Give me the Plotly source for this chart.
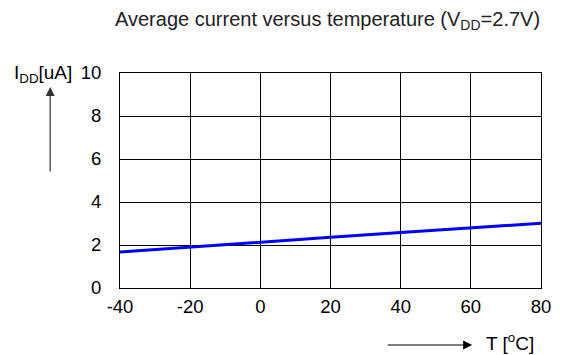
import plotly.graph_objects as go

temps = [-40, -20, 0, 20, 40, 60, 80]
current_ua = [1.67, 1.91, 2.14, 2.36, 2.58, 2.79, 3.01]
x_ticks = [-40, -20, 0, 20, 40, 60, 80]
y_ticks = [0, 2, 4, 6, 8, 10]

# the page body has an 8px default margin, so the figure is drawn 8px in
OFF = 8
W, H = 563 - OFF, 355 - OFF
L, R, T, B = 120 - OFF, 15, 73 - OFF, 67
pw, ph = W - L - R, H - T - B

def px(xp):
    return (xp - OFF - L) / pw

def py(yp):
    return (H - B - (yp - OFF)) / ph

FONT = "Liberation Sans, Arial, sans-serif"
FS = 18.5

fig = go.Figure()
fig.add_trace(go.Scatter(x=temps, y=current_ua, mode="lines",
                         line=dict(color="#0000ff", width=3), showlegend=False))

axis_common = dict(showgrid=True, gridcolor="#000000", gridwidth=1,
                   showline=True, linecolor="#000000", linewidth=1, mirror=True,
                   zeroline=False, ticks="outside", tickcolor="rgba(255,255,255,0)",
                   tickfont=dict(family=FONT, size=FS, color="#000000"))
fig.update_xaxes(range=[-40, 80], tickvals=x_ticks, ticktext=[str(v) for v in x_ticks],
                 ticklen=2, **axis_common)
fig.update_yaxes(range=[0, 10], tickvals=y_ticks, ticktext=[str(v) for v in y_ticks],
                 ticklen=14, **axis_common)

fig.update_layout(
    width=W, height=H,
    margin=dict(l=L, r=R, t=T, b=B),
    paper_bgcolor="white", plot_bgcolor="white",
    font=dict(family=FONT, color="#000000"),
    title=dict(text="Average current versus temperature (V<sub>DD</sub>=2.7V)",
               x=(115 - OFF) / W, xanchor="left", y=1 - (19 - OFF) / H, yanchor="middle",
               font=dict(family=FONT, size=20, color="#222222")),
)

fig.add_annotation(text="I<sub>DD</sub>[uA]", xref="paper", yref="paper",
                   x=px(73), y=py(74), xanchor="right", yanchor="middle",
                   showarrow=False, font=dict(family=FONT, size=19, color="#000000"))
fig.add_annotation(text="", xref="paper", yref="paper", x=px(49), y=py(87),
                   ax=0, ay=86, showarrow=True, arrowhead=2, arrowsize=1.5,
                   arrowwidth=1.2, arrowcolor="#333333")
fig.add_annotation(text="", xref="paper", yref="paper", x=px(478), y=py(345),
                   ax=-86, ay=0, showarrow=True, arrowhead=2, arrowsize=1.5,
                   arrowwidth=1.2, arrowcolor="#000000")
fig.add_annotation(text="T [<sup>o</sup>C]", xref="paper", yref="paper",
                   x=px(490), y=py(342), xanchor="left", yanchor="middle",
                   showarrow=False, font=dict(family=FONT, size=19, color="#000000"))

fig.write_html("out.html")
